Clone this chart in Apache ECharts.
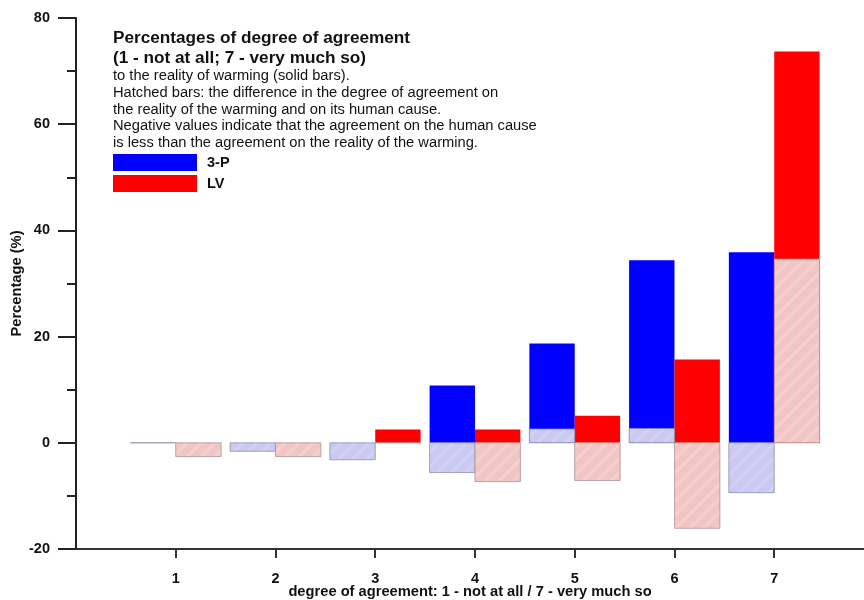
<!DOCTYPE html>
<html>
<head>
<meta charset="utf-8">
<style>
  html, body { margin: 0; padding: 0; background: #fff; }
  #chart { width: 864px; height: 600px; }
</style>
<script src="https://cdn.jsdelivr.net/npm/echarts@6/dist/echarts.min.js"></script>
</head>
<body>
<div id="chart"></div>
<script>
// Degree of agreement categories (1 = not at all, 7 = very much so)
const categories = [1, 2, 3, 4, 5, 6, 7];
const xTickLabels = ['1', '2', '3', '4', '5', '6', '7'];
const yTickValues = [-20, 0, 20, 40, 60, 80];

// Agreement on the reality of warming (solid bars), %
const reality3P = [0, 0, 0, 10.8, 18.7, 34.4, 35.9];
const realityLV = [0, 0, 2.5, 2.5, 5.1, 15.7, 73.7];

// Difference between agreement on human cause and on reality (hatched bars), %
const diff3P = [0, -1.6, -3.2, -5.6, 2.6, 2.7, -9.4];
const diffLV = [-2.6, -2.6, 0, -7.3, -7.1, -16.1, 34.6];

const FONT = '"Liberation Sans", Arial, Helvetica, sans-serif';
const BAR_W = 0.455; // bar width in axis units

// faint diagonal hatch used on the difference bars
function hatch(base, stripe) {
  const c = document.createElement('canvas');
  c.width = 14; c.height = 14;
  const g = c.getContext('2d');
  g.fillStyle = base;
  g.fillRect(0, 0, 14, 14);
  g.strokeStyle = stripe;
  g.lineWidth = 3;
  g.beginPath();
  g.moveTo(-2, 16); g.lineTo(16, -2);
  g.moveTo(-9, 9); g.lineTo(9, -9);
  g.moveTo(5, 23); g.lineTo(23, 5);
  g.stroke();
  return { image: c, repeat: 'repeat' };
}
const hatchBlue = hatch('#c9c9f2', '#d2d2f5');
const hatchRed = hatch('#f2c5c5', '#f5d0d0');

// side = -1 draws left of the category, +1 right of it
function barRenderer(side, fill, stroke, drawZero) {
  return function (params, api) {
    const x = api.value(0);
    const v = api.value(1);
    if (v === 0 && !drawZero) return null;
    const x0 = side < 0 ? x - BAR_W : x;
    const x1 = side < 0 ? x : x + BAR_W;
    const p0 = api.coord([x0, 0]);
    const p1 = api.coord([x1, v]);
    const top = Math.min(p0[1], p1[1]);
    const h = Math.abs(p1[1] - p0[1]);
    return {
      type: 'rect',
      shape: { x: p0[0], y: top, width: p1[0] - p0[0], height: h },
      style: { fill: fill, stroke: stroke, lineWidth: stroke ? 1 : 0 }
    };
  };
}

function pairs(vals) { return categories.map((c, i) => [c, vals[i]]); }

const chart = echarts.init(document.getElementById('chart'), null, { renderer: 'canvas' });

chart.setOption({
  animation: false,
  backgroundColor: '#fff',
  title: {
    left: 113,
    top: 28,
    padding: 0,
    itemGap: 0,
    text: 'Percentages of degree of agreement\n(1 - not at all; 7 - very much so)',
    textStyle: { fontFamily: FONT, fontSize: 17.2, fontWeight: 'bold', color: '#111', lineHeight: 20 },
    subtext: 'to the reality of warming (solid bars).\n' +
      'Hatched bars: the difference in the degree of agreement on\n' +
      'the reality of the warming and on its human cause.\n' +
      'Negative values indicate that the agreement on the human cause\n' +
      'is less than the agreement on the reality of the warming.',
    subtextStyle: { fontFamily: FONT, fontSize: 14.7, color: '#111', lineHeight: 16.6 }
  },
  legend: {
    data: ['3-P', 'LV'],
    orient: 'vertical',
    left: 113,
    top: 154,
    padding: 0,
    itemWidth: 84,
    itemHeight: 17,
    itemGap: 4,
    icon: 'rect',
    selectedMode: false,
    textStyle: { fontFamily: FONT, fontSize: 14.5, fontWeight: 'bold', color: '#111', padding: [0, 0, 0, 5] }
  },
  grid: { left: 76, right: 0, top: 18, bottom: 51, containLabel: false, outerBoundsMode: 'none' },
  xAxis: {
    type: 'value',
    min: 0,
    max: 7.9,
    interval: 1,
    name: 'degree of agreement: 1 - not at all / 7 - very much so',
    nameLocation: 'middle',
    nameGap: 35,
    nameMoveOverlap: false,
    nameTextStyle: { fontFamily: FONT, fontSize: 14.7, fontWeight: 'bold', color: '#111' },
    axisLine: { onZero: false, lineStyle: { color: '#333', width: 2 } },
    axisTick: { customValues: categories, length: 9, lineStyle: { color: '#333', width: 2 } },
    axisLabel: {
      customValues: categories,
      formatter: v => xTickLabels[categories.indexOf(v)],
      margin: 22,
      fontFamily: FONT, fontSize: 14.5, fontWeight: 'bold', color: '#111'
    },
    splitLine: { show: false }
  },
  yAxis: {
    type: 'value',
    min: -20,
    max: 80,
    interval: 20,
    name: 'Percentage (%)',
    nameLocation: 'middle',
    nameGap: 52,
    nameMoveOverlap: false,
    nameTextStyle: { fontFamily: FONT, fontSize: 14.7, fontWeight: 'bold', color: '#111' },
    axisLine: { show: true, lineStyle: { color: '#222', width: 2 } },
    axisTick: { show: true, length: 18, lineStyle: { color: '#222', width: 2 } },
    minorTick: { show: true, splitNumber: 2, length: 9, lineStyle: { color: '#222', width: 2 } },
    axisLabel: {
      customValues: yTickValues,
      margin: 26,
      fontFamily: FONT, fontSize: 14.5, fontWeight: 'bold', color: '#111'
    },
    splitLine: { show: false },
    minorSplitLine: { show: false }
  },
  series: [
    {
      name: '3-P', type: 'custom', color: '#0000ff',
      renderItem: barRenderer(-1, '#0000ff', null, false),
      data: pairs(reality3P), z: 2
    },
    {
      name: 'LV', type: 'custom', color: '#ff0000',
      renderItem: barRenderer(1, '#ff0000', null, false),
      data: pairs(realityLV), z: 2
    },
    {
      name: '3-P difference', type: 'custom',
      renderItem: barRenderer(-1, hatchBlue, 'rgba(140,140,160,0.75)', true),
      data: pairs(diff3P), z: 3
    },
    {
      name: 'LV difference', type: 'custom',
      renderItem: barRenderer(1, hatchRed, 'rgba(170,140,140,0.75)', true),
      data: pairs(diffLV), z: 3
    }
  ]
});
</script>
</body>
</html>
